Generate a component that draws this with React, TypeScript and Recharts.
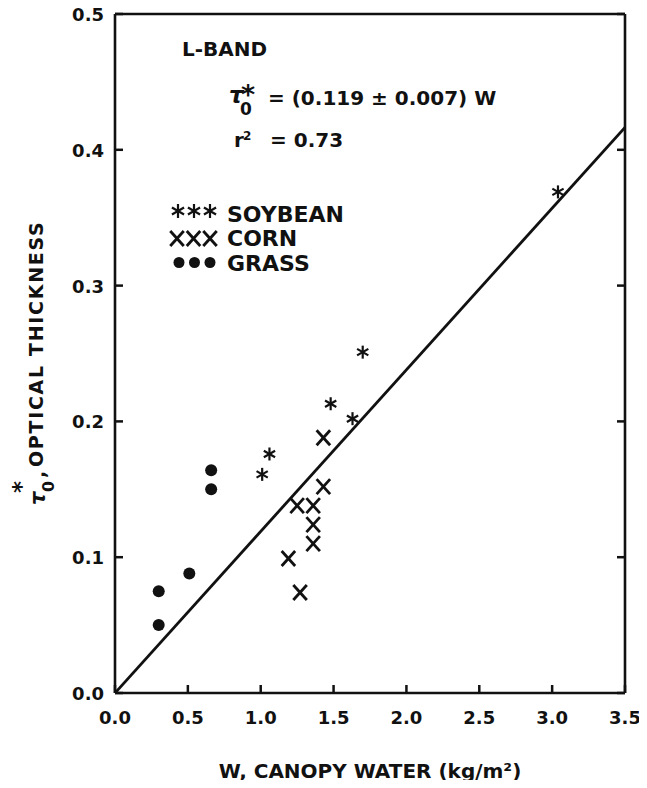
import { ScatterChart, Scatter, XAxis, YAxis } from 'recharts'

const FONT = '"DejaVu Sans", "Liberation Sans", sans-serif'
const INK = '#111'

// axis ticks
const xTicks = [0, 0.5, 1.0, 1.5, 2.0, 2.5, 3.0, 3.5]
const yTicks = [0, 0.1, 0.2, 0.3, 0.4, 0.5]

// soybean (asterisks)
const soybeanW = [1.01, 1.06, 1.48, 1.63, 1.7, 3.04]
const soybeanTau = [0.161, 0.176, 0.213, 0.202, 0.251, 0.369]

// corn (X)
const cornW = [1.43, 1.43, 1.25, 1.36, 1.36, 1.36, 1.19, 1.27]
const cornTau = [0.188, 0.152, 0.138, 0.138, 0.124, 0.11, 0.099, 0.074]

// grass (dots)
const grassW = [0.3, 0.3, 0.51, 0.66, 0.66]
const grassTau = [0.05, 0.075, 0.088, 0.164, 0.15]

// regression line tau = 0.119 W
const fitW = [0, 3.5]
const fitTau = [0, 0.4165]

const zip = (w: number[], t: number[]) => w.map((v, i) => ({ w: v, t: t[i] }))

const soybean = zip(soybeanW, soybeanTau)
const corn = zip(cornW, cornTau)
const grass = zip(grassW, grassTau)
const fit = zip(fitW, fitTau)

function Star({ cx, cy, r = 6.5, sw = 2.2 }: any) {
  const dx = r * 0.866
  const dy = r * 0.5
  return (
    <g stroke={INK} strokeWidth={sw}>
      <line x1={cx} y1={cy - r} x2={cx} y2={cy + r} />
      <line x1={cx - dx} y1={cy - dy} x2={cx + dx} y2={cy + dy} />
      <line x1={cx - dx} y1={cy + dy} x2={cx + dx} y2={cy - dy} />
    </g>
  )
}

function Cross({ cx, cy, r = 7.5, sw = 2.8 }: any) {
  return (
    <g stroke={INK} strokeWidth={sw}>
      <line x1={cx - r * 0.9} y1={cy - r} x2={cx + r * 0.9} y2={cy + r} />
      <line x1={cx - r * 0.9} y1={cy + r} x2={cx + r * 0.9} y2={cy - r} />
    </g>
  )
}

function Dot({ cx, cy, r = 6 }: any) {
  return <circle cx={cx} cy={cy} r={r} fill={INK} />
}

const tickText = {
  fontFamily: FONT,
  fontWeight: 700,
  fontSize: 18,
  fill: INK,
}

const TICK = 8

function BottomTick({ x, y, payload }: any) {
  return (
    <g>
      <path d={`M${x},${y}V${y - TICK}`} stroke={INK} strokeWidth={2.5} fill="none" />
      <text x={x} y={y + 31} textAnchor="middle" {...tickText}>
        {Number(payload.value).toFixed(1)}
      </text>
    </g>
  )
}

function TopTick({ x, y }: any) {
  return <path d={`M${x},${y}V${y + TICK}`} stroke={INK} strokeWidth={2.5} fill="none" />
}

function LeftTick({ x, y, payload }: any) {
  return (
    <g>
      <path d={`M${x},${y}H${x + TICK}`} stroke={INK} strokeWidth={2.5} fill="none" />
      <text x={x - 11} y={y + 7} textAnchor="end" {...tickText}>
        {Number(payload.value).toFixed(1)}
      </text>
    </g>
  )
}

function RightTick({ x, y }: any) {
  return <path d={`M${x},${y}H${x - TICK}`} stroke={INK} strokeWidth={2.5} fill="none" />
}

function Annotations() {
  const bold = { fontFamily: FONT, fontWeight: 700, fill: INK }
  return (
    <g>
      {/* y axis title, rotated */}
      <g transform="translate(35, 497) rotate(-90)">
        <text x={0} y={2} {...bold} fontSize={21}>
          <tspan fontStyle="italic">τ</tspan>
          <tspan x={13} y={11} fontSize={16}>0</tspan>
          <tspan x={12} y={-14} fontSize={23}>*</tspan>
          <tspan x={27} y={2} fontSize={19}>,</tspan>
          <tspan x={38} y={0} fontSize={19} letterSpacing={1.7}>OPTICAL THICKNESS</tspan>
        </text>
      </g>

      {/* fit statistics */}
      <text x={174} y={48} {...bold} fontSize={20}>L-BAND</text>
      <text x={221} y={95} {...bold} fontSize={23}>
        <tspan fontStyle="italic">τ</tspan>
        <tspan x={232} y={107} fontSize={17}>0</tspan>
        <tspan x={233} y={96} fontSize={27}>*</tspan>
        <tspan x={260} y={97} fontSize={20}>= (0.119 ± 0.007) W</tspan>
      </text>
      <text x={226} y={139} {...bold} fontSize={20}>
        r<tspan x={235} y={132} fontSize={12}>2</tspan>
        <tspan x={262} y={139}>= 0.73</tspan>
      </text>

      {/* legend */}
      <Star cx={170} cy={203} r={7} />
      <Star cx={186} cy={203} r={7} />
      <Star cx={202} cy={203} r={7} />
      <text x={219} y={214} {...bold} fontSize={22}>SOYBEAN</text>
      <Cross cx={169} cy={230.5} r={7.5} />
      <Cross cx={185.5} cy={230.5} r={7.5} />
      <Cross cx={202} cy={230.5} r={7.5} />
      <text x={219} y={238} {...bold} fontSize={22}>CORN</text>
      <Dot cx={171} cy={254.5} r={5.5} />
      <Dot cx={186.5} cy={254.5} r={5.5} />
      <Dot cx={202} cy={254.5} r={5.5} />
      <text x={219} y={263} {...bold} fontSize={22}>GRASS</text>

      {/* x axis title */}
      <text x={362} y={770} textAnchor="middle" {...bold} fontSize={20}>
        W, CANOPY WATER (kg/m²)
      </text>
    </g>
  )
}

export default function App() {
  const axisLine = { stroke: INK, strokeWidth: 2.6 }
  return (
    <div style={{ width: 639, height: 772 }}>
      <ScatterChart
        width={639}
        height={780}
        margin={{ top: 5, right: 21, bottom: 0, left: 0 }}
        style={{ overflow: 'visible' }}
      >
        <XAxis
          type="number"
          dataKey="w"
          domain={[0, 3.5]}
          ticks={xTicks}
          interval={0}
          allowDataOverflow
          height={95}
          tickSize={0}
          tickMargin={0}
          tickLine={false}
          axisLine={axisLine}
          tick={BottomTick}
        />
        <XAxis
          xAxisId="top"
          orientation="top"
          type="number"
          domain={[0, 3.5]}
          ticks={xTicks}
          interval={0}
          allowDataOverflow
          height={1}
          tickSize={0}
          tickMargin={0}
          tickLine={false}
          axisLine={axisLine}
          tick={TopTick}
        />
        <YAxis
          type="number"
          dataKey="t"
          domain={[0, 0.5]}
          ticks={yTicks}
          interval={0}
          allowDataOverflow
          width={107}
          tickSize={0}
          tickMargin={0}
          tickLine={false}
          axisLine={axisLine}
          tick={LeftTick}
        />
        <YAxis
          yAxisId="right"
          orientation="right"
          type="number"
          domain={[0, 0.5]}
          ticks={yTicks}
          interval={0}
          allowDataOverflow
          width={1}
          tickSize={0}
          tickMargin={0}
          tickLine={false}
          axisLine={axisLine}
          tick={RightTick}
        />
        <Scatter
          data={fit}
          line={{ stroke: INK, strokeWidth: 2.8 }}
          shape={() => <g />}
          isAnimationActive={false}
        />
        <Scatter data={grass} shape={(p: any) => <Dot cx={p.cx} cy={p.cy} />} isAnimationActive={false} />
        <Scatter data={corn} shape={(p: any) => <Cross cx={p.cx} cy={p.cy} />} isAnimationActive={false} />
        <Scatter data={soybean} shape={(p: any) => <Star cx={p.cx} cy={p.cy} />} isAnimationActive={false} />
        <Annotations />
      </ScatterChart>
    </div>
  )
}
